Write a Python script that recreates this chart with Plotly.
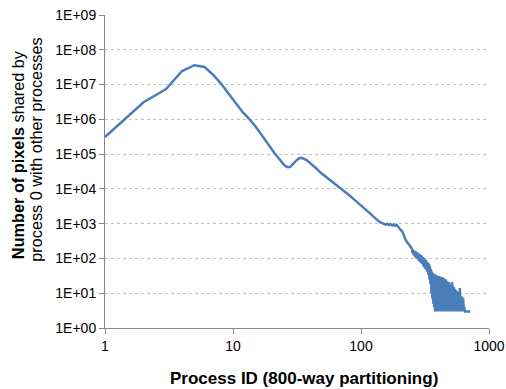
import plotly.graph_objects as go

# Main smooth part of the curve (process ID, shared pixels)
main_x = [1, 2, 3, 4, 5, 6, 7, 8, 9, 10, 11, 12, 13, 14, 15, 16, 17, 18, 19, 20,
          21, 22, 23, 24, 25, 26, 27, 28, 29, 30, 31, 32, 33, 34, 35, 36, 38, 40,
          42, 45, 48, 52, 56, 60, 65, 70, 75, 80, 85, 90, 95, 100]
main_y = [3.1e5, 3.1e6, 7.4e6, 2.45e7, 3.6e7, 3.2e7, 1.9e7, 1.1e7, 6.2e6, 3.7e6,
          2.3e6, 1.55e6, 1.15e6, 8.5e5, 6.2e5, 4.5e5, 3.2e5, 2.4e5, 1.8e5, 1.4e5,
          1.1e5, 8.8e4, 7.0e4, 5.7e4, 4.9e4, 4.4e4, 4.2e4, 4.3e4, 4.8e4, 5.6e4,
          6.4e4, 7.1e4, 7.6e4, 7.8e4, 7.7e4, 7.3e4, 6.5e4, 5.6e4, 4.8e4, 3.8e4,
          3.0e4, 2.4e4, 1.9e4, 1.55e4, 1.25e4, 1.0e4, 8.2e3, 6.8e3, 5.6e3, 4.7e3,
          4.0e3, 3.3e3]

# Middle part (slightly noisy)
mid_x = [105, 110, 115, 120, 125, 130, 135, 140, 145, 150, 155, 160, 165, 170,
         175, 180, 185, 190, 195, 200, 205, 210, 215, 220, 225, 230, 235, 240, 245]
mid_y = [2.8e3, 2.5e3, 2.1e3, 1.85e3, 1.6e3, 1.45e3, 1.25e3, 1.12e3, 1.05e3,
         1.0e3, 9.4e2, 9.9e2, 9.1e2, 9.7e2, 8.9e2, 9.5e2, 8.7e2, 9.2e2, 8.0e2,
         7.0e2, 6.5e2, 6.0e2, 4.6e2, 3.8e2, 3.2e2, 2.9e2, 2.6e2, 2.4e2, 2.1e2]

# Noisy tail, every third process ID from 250
tail_start = 250
tail_step = 3
tail_y = [190, 140, 175, 120, 165, 110, 160, 100, 150, 95, 140, 85, 135, 80, 125, 75, 120,
          70, 110, 60, 105, 55, 95, 50, 90, 45, 80, 40, 74, 33, 70, 25, 60, 18, 50, 10,
          42, 7, 38, 5, 36, 4, 35, 3, 34, 3, 33, 3, 32, 3, 30, 3, 31, 3, 28, 3, 30, 3,
          27, 3, 29, 3, 26, 3, 28, 3, 24, 3, 22, 3, 25, 3, 20, 3, 22, 3, 19, 3, 21, 3,
          18, 3, 16, 3, 18, 3, 15, 3, 21, 3, 17, 3, 14, 3, 15, 3, 12, 3, 13, 3, 11, 3,
          12, 3, 10, 3, 11, 3, 9, 3, 10, 3, 8, 3, 14, 3, 9, 3, 8, 3, 7, 3, 8, 3, 6, 3,
          7, 3, 5, 3, 4, 3, 3, 3, 3, 3, 3, 3, 3, 3, 3, 3, 3, 3, 3, 3, 3, 3, 3, 3, 3, 3,
          3, 3, 3, 3]
tail_x = list(range(tail_start, tail_start + tail_step * len(tail_y), tail_step))

x_vals = main_x + mid_x + tail_x
y_vals = main_y + mid_y + tail_y

y_tickvals = [1, 1e1, 1e2, 1e3, 1e4, 1e5, 1e6, 1e7, 1e8, 1e9]
y_ticktext = ["1E+00", "1E+01", "1E+02", "1E+03", "1E+04", "1E+05", "1E+06",
              "1E+07", "1E+08", "1E+09"]
x_tickvals = [1, 10, 100, 1000]
x_ticktext = ["1", "10", "100", "1000"]

x_title = "<b>Process ID (800-way partitioning)</b>"
y_title_line1 = "<b>Number of pixels</b> shared by"
y_title_line2 = "process 0 with other processes"

FONT = "Liberation Sans, Arial, sans-serif"

fig = go.Figure()
fig.add_trace(go.Scatter(x=x_vals, y=y_vals, mode="lines",
                         line=dict(color="#4a7ebb", width=2.5),
                         showlegend=False, hoverinfo="skip"))

fig.update_layout(
    width=506, height=389,
    margin=dict(l=105, r=17, t=15, b=61),
    paper_bgcolor="white", plot_bgcolor="white",
    font=dict(family=FONT, color="black", size=14),
)
fig.update_xaxes(
    type="log", range=[0, 3], automargin=False,
    tickvals=x_tickvals, ticktext=x_ticktext,
    showgrid=False, showline=True, linecolor="#868686", linewidth=1,
    ticks="outside", ticklen=5, tickcolor="#868686",
    tickfont=dict(size=14),
    zeroline=False,
)
fig.update_yaxes(
    type="log", range=[0, 9], automargin=False,
    tickvals=y_tickvals, ticktext=y_ticktext,
    showgrid=True, gridcolor="#c0c0c0", griddash="dot", gridwidth=1,
    showline=True, linecolor="#868686", linewidth=1,
    ticks="outside", ticklen=5, tickcolor="#868686",
    tickfont=dict(size=14),
    zeroline=False,
)

fig.add_annotation(text=x_title, xref="paper", yref="paper", x=0.518, y=-0.160,
                   showarrow=False, xanchor="center", yanchor="middle",
                   font=dict(size=17, family=FONT, color="black"))
fig.add_annotation(text=y_title_line1, xref="paper", yref="paper", x=-0.226, y=0.553,
                   showarrow=False, xanchor="center", yanchor="middle", textangle=-90,
                   font=dict(size=16.3, family=FONT, color="black"))
fig.add_annotation(text=y_title_line2, xref="paper", yref="paper", x=-0.180, y=0.569,
                   showarrow=False, xanchor="center", yanchor="middle", textangle=-90,
                   font=dict(size=16.3, family=FONT, color="black"))

fig.write_html("out.html")
